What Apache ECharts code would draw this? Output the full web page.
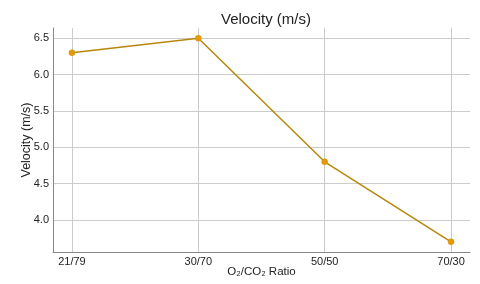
<!DOCTYPE html>
<html>
<head>
<meta charset="utf-8">
<script src="https://cdn.jsdelivr.net/npm/echarts@6/dist/echarts.min.js"></script>
<style>html,body{margin:0;padding:0;background:#fff}#c{width:480px;height:284px}</style>
</head>
<body>
<div id="c"></div>
<script>
const categories = ['21/79', '30/70', '50/50', '70/30'];
const velocity = [6.3, 6.5, 4.8, 3.7];
const yTicks = [4.0, 4.5, 5.0, 5.5, 6.0, 6.5];

const font = 'Liberation Sans, Arial, sans-serif';
const xIdx = categories.map((c, i) => i);
const chart = echarts.init(document.getElementById('c'), null, {renderer: 'canvas'});
chart.setOption({
  animation: false,
  backgroundColor: '#fff',
  title: {
    text: 'Velocity (m/s)', left: 261, top: 7, textAlign: 'center',
    textStyle: {fontFamily: font, fontSize: 15, fontWeight: 'normal', color: '#222'}
  },
  grid: {left: 53, right: 10, top: 28, bottom: 32, containLabel: false, outerBoundsMode: 'none'},
  xAxis: {
    type: 'value', min: -0.15, max: 3.15,
    name: 'O₂/CO₂ Ratio', nameLocation: 'middle', nameGap: 14, nameMoveOverlap: false,
    nameTextStyle: {fontFamily: font, fontSize: 11.5, color: '#222'},
    axisLine: {show: true, onZero: false, lineStyle: {color: '#888', width: 1}},
    axisTick: {show: false, customValues: xIdx},
    axisLabel: {customValues: xIdx, formatter: v => categories[Math.round(v)], fontFamily: font, fontSize: 11, color: '#222', margin: 4},
    splitLine: {show: true, lineStyle: {color: '#ccc', width: 1}}
  },
  yAxis: {
    type: 'value', min: 3.56, max: 6.64,
    name: 'Velocity (m/s)', nameLocation: 'middle', nameGap: 20, nameMoveOverlap: false,
    nameTextStyle: {fontFamily: font, fontSize: 12.5, color: '#222'},
    axisLine: {show: true, onZero: false, lineStyle: {color: '#888', width: 1}},
    axisTick: {show: false, customValues: yTicks},
    axisLabel: {customValues: yTicks, formatter: v => v.toFixed(1), fontFamily: font, fontSize: 11, color: '#222', margin: 4},
    splitLine: {show: true, lineStyle: {color: '#ccc', width: 1}}
  },
  series: [{
    type: 'line',
    data: velocity.map((v, i) => [xIdx[i], v]),
    symbol: 'circle', symbolSize: 6,
    lineStyle: {color: '#b8860b', width: 1.5},
    itemStyle: {color: '#e69a00', borderColor: '#d08c00', borderWidth: 0.5}
  }]
});
</script>
</body>
</html>
